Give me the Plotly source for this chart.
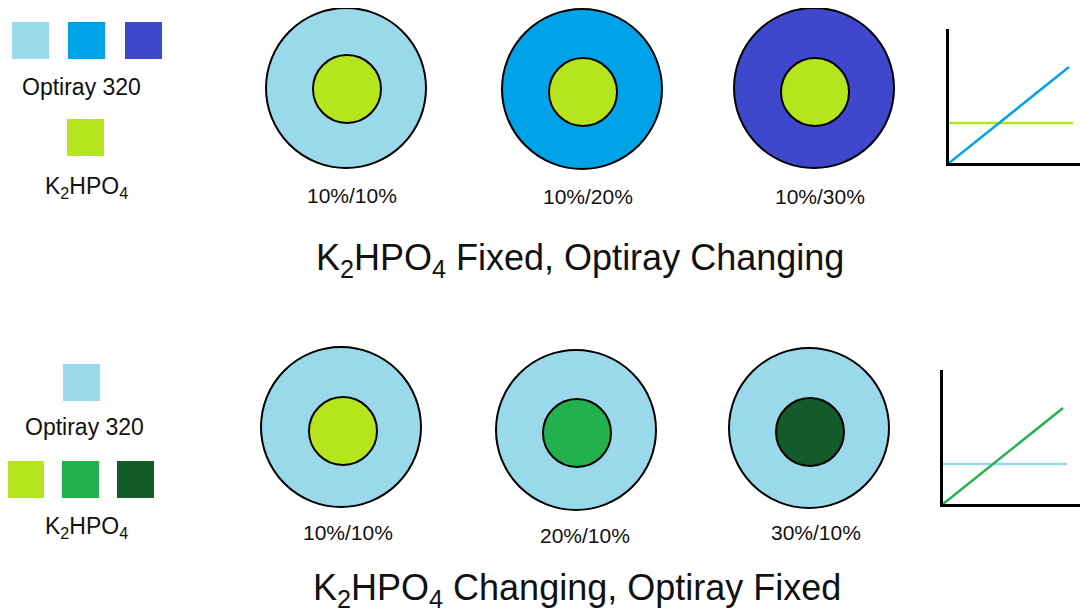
import plotly.graph_objects as go

# concentrations (%) shown in each panel row
k2hpo4_top = [10, 10, 10]
optiray_top = [10, 20, 30]
k2hpo4_bottom = [10, 20, 30]
optiray_bottom = [10, 10, 10]

# mini signal charts: rising line vs flat line
conc_x = [0, 30]
rising_y = [0, 24]
flat_x = [0, 31]
flat_y = [10, 10]

titles = ["K<sub>2</sub>HPO<sub>4</sub> Fixed, Optiray Changing",
          "K<sub>2</sub>HPO<sub>4</sub> Changing, Optiray Fixed"]

#Colours for each concentration level
optiray_col = {10: "#99D9EA", 20: "#00A2E8", 30: "#3F48CC"}
k2hpo4_col = {10: "#B5E61D", 20: "#22B14C", 30: "#135B2B"}

W, H = 1088, 612
OFF = 8  # page body margin shifts the figure by 8px
FONT = "Liberation Sans, Arial, sans-serif"
INK = "#111111"

fig = go.Figure()

#---Circles (window pixel coordinates on a full-page axis)---
rows = [
    dict(k=k2hpo4_top, o=optiray_top,
         outer=[(346, 88), (582, 89), (814, 88)],
         inner=[(347, 89), (583, 92), (815, 92)],
         label=[(352, 195), (588, 196), (820, 196)]),
    dict(k=k2hpo4_bottom, o=optiray_bottom,
         outer=[(341, 427), (576, 430), (809, 428)],
         inner=[(343, 431), (577, 433), (810, 432)],
         label=[(348, 532), (585, 535), (816, 532)]),
]
R_OUT, R_IN = 80, 34

for row in rows:
    for i in range(3):
        ox, oy = row["outer"][i]
        ix, iy = row["inner"][i]
        fig.add_shape(type="circle", xref="x", yref="y",
                      x0=ox - R_OUT, x1=ox + R_OUT, y0=oy - R_OUT, y1=oy + R_OUT,
                      fillcolor=optiray_col[row["o"][i]], line=dict(color="black", width=2))
        fig.add_shape(type="circle", xref="x", yref="y",
                      x0=ix - R_IN, x1=ix + R_IN, y0=iy - R_IN, y1=iy + R_IN,
                      fillcolor=k2hpo4_col[row["k"][i]], line=dict(color="black", width=2))
        lx, ly = row["label"][i]
        fig.add_annotation(x=lx, y=ly, xref="x", yref="y", showarrow=False,
                           text=f"{row['k'][i]}%/{row['o'][i]}%",
                           font=dict(family=FONT, size=21, color=INK))

#Row titles
for t, (tx, ty) in zip(titles, [(580, 260), (577, 590)]):
    fig.add_annotation(x=tx, y=ty, xref="x", yref="y", showarrow=False, text=t,
                       font=dict(family=FONT, size=36, color=INK))

#---Legend swatches---
def square(x0, y0, color, size=37):
    fig.add_shape(type="rect", xref="x", yref="y", x0=x0, x1=x0 + size, y0=y0, y1=y0 + size,
                  fillcolor=color, line=dict(width=0))

for x0, c in zip([12, 68, 125], optiray_top):
    square(x0, 22, optiray_col[c])
square(67, 119, k2hpo4_col[k2hpo4_top[0]])
square(63, 364, optiray_col[optiray_bottom[0]])
for x0, c in zip([7, 62, 117], k2hpo4_bottom):
    square(x0, 461, k2hpo4_col[c])

for txt, (tx, ty) in [("Optiray 320", (81, 87)), ("K<sub>2</sub>HPO<sub>4</sub>", (86, 187)),
                      ("Optiray 320", (84, 427)), ("K<sub>2</sub>HPO<sub>4</sub>", (86, 527))]:
    fig.add_annotation(x=tx, y=ty, xref="x", yref="y", showarrow=False, text=txt,
                       font=dict(family=FONT, size=23, color=INK))

#---Mini charts---
fig.add_trace(go.Scatter(x=flat_x, y=flat_y, mode="lines", line=dict(color=k2hpo4_col[10], width=2.5),
                         xaxis="x2", yaxis="y2", showlegend=False))
fig.add_trace(go.Scatter(x=conc_x, y=rising_y, mode="lines", line=dict(color=optiray_col[20], width=2.5),
                         xaxis="x2", yaxis="y2", showlegend=False))
fig.add_trace(go.Scatter(x=flat_x, y=flat_y, mode="lines", line=dict(color=optiray_col[10], width=2.5),
                         xaxis="x3", yaxis="y3", showlegend=False))
fig.add_trace(go.Scatter(x=conc_x, y=rising_y, mode="lines", line=dict(color=k2hpo4_col[20], width=2.5),
                         xaxis="x3", yaxis="y3", showlegend=False))

mini_axis = dict(showline=True, linecolor="black", linewidth=3, showgrid=False,
                 zeroline=False, showticklabels=False, ticks="")

def xdom(px0, px1):
    return [(px0 - OFF) / W, (px1 - OFF) / W]

def ydom(px_bottom, px_top):
    return [1 - (px_bottom - OFF) / H, 1 - (px_top - OFF) / H]

fig.update_layout(
    width=W, height=H,
    margin=dict(l=0, r=0, t=0, b=0),
    paper_bgcolor="white", plot_bgcolor="rgba(0,0,0,0)",
    showlegend=False,
    xaxis=dict(range=[OFF, W + OFF], domain=[0, 1], visible=False),
    yaxis=dict(range=[H + OFF, OFF], domain=[0, 1], visible=False),
    xaxis2=dict(mini_axis, domain=xdom(949, 1088 + OFF), range=[0, (W + OFF - 949) / 4], anchor="y2"),
    yaxis2=dict(mini_axis, domain=ydom(163, 29), range=[0, 134 / 4], anchor="x2"),
    xaxis3=dict(mini_axis, domain=xdom(943, 1088 + OFF), range=[0, (W + OFF - 943) / 4], anchor="y3"),
    yaxis3=dict(mini_axis, domain=ydom(504, 370), range=[0, 134 / 4], anchor="x3"),
)

fig.write_html("out.html")
